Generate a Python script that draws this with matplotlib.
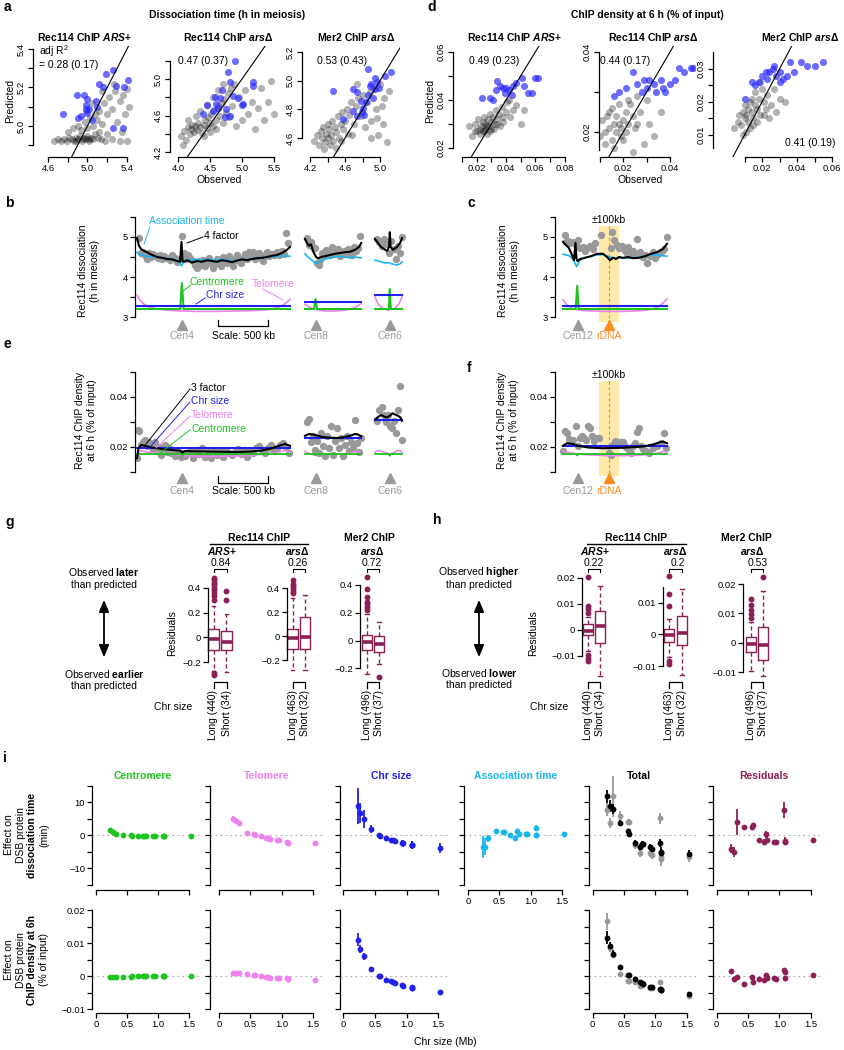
"""
Multi-panel figure: predicted vs observed Rec114/Mer2 dissociation time and ChIP density,
chromosome profiles, residual boxplots and per-chromosome effects.
"""

import matplotlib
matplotlib.use("Agg")
import matplotlib.pyplot as plt
import matplotlib.transforms as mtransforms
from matplotlib.lines import Line2D
from matplotlib.patches import Rectangle, FancyArrowPatch

plt.rcParams["font.family"] = ["Liberation Sans", "DejaVu Sans"]
plt.rcParams["mathtext.fontset"] = "custom"
plt.rcParams["mathtext.it"] = "Liberation Sans:italic:bold"
plt.rcParams["mathtext.bf"] = "Liberation Sans:bold"
plt.rcParams["mathtext.rm"] = "Liberation Sans"
plt.rcParams["axes.linewidth"] = 0.9

# ---------------- data: panel a (dissociation time, h) ----------------
a1_gray_x = [4.66, 4.70, 4.73, 4.76, 4.79, 4.81, 4.84, 4.86, 4.88, 4.90, 4.92, 4.94, 4.96, 4.98, 5.00,
             5.02, 5.04, 5.06, 5.08, 5.11, 5.14, 5.18, 5.25, 5.33, 5.40, 4.80, 4.85, 4.90, 4.93, 4.97,
             5.00, 5.03, 5.06, 5.08, 5.10, 5.12, 5.15, 5.17, 5.20, 5.22, 5.25, 5.28, 5.30, 5.33, 5.36,
             5.38, 5.40, 5.42, 5.35, 5.20, 5.12, 5.05, 4.98, 5.15, 5.27, 4.88, 4.95, 5.02]
a1_gray_y = [4.92, 4.93, 4.92, 4.93, 4.92, 4.94, 4.93, 4.92, 4.94, 4.93, 4.95, 4.92, 4.94, 4.93, 4.95,
             4.92, 4.94, 4.93, 4.96, 4.94, 4.93, 4.92, 4.93, 4.92, 4.92, 4.97, 4.99, 5.00, 4.98, 5.02,
             4.99, 5.04, 5.00, 5.06, 5.03, 5.08, 5.01, 5.12, 5.06, 5.15, 5.09, 5.18, 5.02, 5.13, 5.16,
             5.06, 5.19, 5.10, 4.97, 4.96, 4.97, 5.12, 5.08, 5.18, 5.22, 4.92, 4.93, 4.93]
a1_blue_x = [4.75, 4.98, 5.09, 5.16, 5.19, 5.26, 5.41, 5.37, 5.29, 5.12, 4.89, 4.96, 4.99, 4.98, 5.00,
             5.05, 4.93, 5.26, 5.36, 5.02, 5.10, 4.90]
a1_blue_y = [5.06, 5.09, 5.13, 5.20, 5.27, 5.29, 5.24, 5.20, 5.21, 5.22, 5.16, 5.16, 5.14, 5.11, 5.07,
             5.03, 5.05, 4.99, 4.99, 5.09, 5.10, 5.04]

a2_gray_x = [4.05, 4.10, 4.12, 4.15, 4.18, 4.20, 4.22, 4.25, 4.27, 4.30, 4.32, 4.35, 4.37, 4.40, 4.42,
             4.45, 4.47, 4.50, 4.52, 4.55, 4.57, 4.60, 4.62, 4.65, 4.68, 4.70, 4.72, 4.75, 4.78, 4.80,
             4.83, 4.85, 4.88, 4.90, 4.95, 5.00, 5.05, 5.10, 5.15, 5.20, 5.25, 5.30, 5.35, 5.40, 5.45,
             5.50, 4.28, 4.35, 4.45, 4.55, 4.62, 4.70, 4.40, 4.50, 4.15, 4.60, 4.08]
a2_gray_y = [4.38, 4.43, 4.33, 4.47, 4.40, 4.45, 4.50, 4.42, 4.48, 4.44, 4.52, 4.47, 4.41, 4.50, 4.55,
             4.46, 4.58, 4.52, 4.62, 4.49, 4.66, 4.55, 4.70, 4.60, 4.74, 4.52, 4.78, 4.63, 4.85, 4.58,
             4.90, 4.70, 4.95, 4.48, 4.80, 4.55, 4.88, 4.62, 4.75, 4.45, 4.68, 4.90, 4.55, 4.75, 4.98,
             4.62, 4.60, 4.65, 4.72, 4.80, 4.88, 4.95, 4.38, 4.42, 4.55, 4.45, 4.28]
a2_blue_x = [4.89, 4.78, 4.81, 4.45, 4.58, 4.66, 4.63, 4.81, 5.00, 5.17, 5.17, 4.94, 5.02, 4.39, 4.54,
             4.75, 4.60, 4.86, 4.74, 4.69]
a2_blue_y = [5.20, 5.08, 4.97, 4.71, 4.80, 4.79, 4.68, 4.60, 4.71, 4.97, 4.92, 4.79, 4.73, 4.62, 4.65,
             4.67, 4.73, 4.81, 4.58, 4.88]

a3_gray_x = [4.25, 4.28, 4.30, 4.32, 4.34, 4.35, 4.37, 4.38, 4.40, 4.41, 4.42, 4.44, 4.45, 4.46, 4.48,
             4.50, 4.52, 4.53, 4.55, 4.57, 4.58, 4.60, 4.62, 4.63, 4.65, 4.67, 4.70, 4.72, 4.75, 4.78,
             4.80, 4.83, 4.85, 4.88, 4.90, 4.93, 4.95, 4.98, 5.00, 5.03, 5.05, 5.08, 5.10, 4.36, 4.43,
             4.50, 4.56, 4.68, 4.74, 4.90, 4.96, 5.02]
a3_gray_y = [4.58, 4.62, 4.55, 4.65, 4.60, 4.68, 4.57, 4.63, 4.70, 4.60, 4.66, 4.62, 4.72, 4.58, 4.68,
             4.64, 4.75, 4.60, 4.70, 4.78, 4.66, 4.72, 4.80, 4.63, 4.76, 4.85, 4.70, 4.82, 4.88, 4.75,
             4.90, 4.68, 4.85, 4.92, 4.72, 4.95, 4.80, 4.62, 4.98, 4.70, 4.88, 4.57, 4.93, 4.52, 4.55,
             4.53, 4.58, 4.62, 4.98, 4.60, 4.74, 4.82]
a3_blue_x = [4.46, 4.58, 4.69, 4.74, 4.78, 4.80, 4.82, 4.86, 4.88, 4.90, 4.94, 4.97, 4.74, 4.69, 4.79,
             4.86, 4.94, 5.06, 5.13, 4.84, 4.92, 4.99]
a3_blue_y = [4.93, 4.73, 4.94, 4.92, 4.86, 4.81, 4.76, 4.90, 4.96, 4.98, 4.94, 4.99, 4.75, 4.79, 4.78,
             5.08, 5.02, 5.03, 5.06, 4.85, 4.88, 4.95]

a_r2 = ["adj R$^{\\mathrm{2}}$\n= 0.28 (0.17)", "0.47 (0.37)", "0.53 (0.43)"]

# ---------------- data: panel d (ChIP density at 6 h, % of input) ----------------
d1_gray_x = [0.015, 0.017, 0.019, 0.020, 0.021, 0.022, 0.023, 0.024, 0.024, 0.025, 0.026, 0.026, 0.027,
             0.028, 0.028, 0.029, 0.030, 0.030, 0.031, 0.032, 0.033, 0.034, 0.035, 0.036, 0.037, 0.038,
             0.040, 0.041, 0.043, 0.045, 0.047, 0.050, 0.052, 0.019, 0.022, 0.025, 0.027, 0.029, 0.032,
             0.034, 0.038, 0.042]
d1_gray_y = [0.029, 0.025, 0.030, 0.027, 0.032, 0.026, 0.029, 0.031, 0.027, 0.033, 0.028, 0.030, 0.026,
             0.032, 0.029, 0.034, 0.028, 0.031, 0.033, 0.030, 0.036, 0.032, 0.034, 0.029, 0.037, 0.033,
             0.035, 0.039, 0.033, 0.036, 0.038, 0.030, 0.036, 0.027, 0.028, 0.027, 0.029, 0.027, 0.028,
             0.030, 0.031, 0.040]
d1_blue_x = [0.0235, 0.029, 0.031, 0.034, 0.036, 0.038, 0.040, 0.039, 0.044, 0.045, 0.047, 0.051, 0.052,
             0.055, 0.058, 0.060, 0.062, 0.033, 0.042]
d1_blue_y = [0.041, 0.041, 0.040, 0.048, 0.046, 0.045, 0.045, 0.043, 0.042, 0.046, 0.047, 0.049, 0.046,
             0.043, 0.043, 0.049, 0.049, 0.044, 0.044]

d2_gray_x = [0.008, 0.010, 0.011, 0.012, 0.013, 0.014, 0.015, 0.015, 0.016, 0.017, 0.017, 0.018, 0.019,
             0.019, 0.020, 0.021, 0.021, 0.022, 0.023, 0.024, 0.025, 0.026, 0.027, 0.029, 0.031, 0.033,
             0.036, 0.012, 0.014, 0.016, 0.018, 0.020, 0.022, 0.026, 0.030, 0.024]
d2_gray_y = [0.021, 0.019, 0.023, 0.020, 0.024, 0.021, 0.018, 0.026, 0.022, 0.020, 0.024, 0.027, 0.021,
             0.019, 0.023, 0.025, 0.020, 0.022, 0.027, 0.024, 0.021, 0.029, 0.025, 0.017, 0.022, 0.019,
             0.025, 0.017, 0.025, 0.016, 0.022, 0.018, 0.028, 0.022, 0.028, 0.015]
d2_blue_x = [0.016, 0.018, 0.021, 0.024, 0.026, 0.028, 0.030, 0.031, 0.034, 0.033, 0.036, 0.038, 0.040,
             0.042, 0.044, 0.046, 0.049, 0.050, 0.037, 0.029]
d2_blue_y = [0.029, 0.030, 0.031, 0.035, 0.032, 0.030, 0.031, 0.033, 0.030, 0.032, 0.033, 0.030, 0.032,
             0.033, 0.036, 0.035, 0.036, 0.036, 0.031, 0.033]

d3_gray_x = [0.004, 0.006, 0.007, 0.008, 0.009, 0.010, 0.010, 0.011, 0.012, 0.012, 0.013, 0.014, 0.014,
             0.015, 0.016, 0.016, 0.017, 0.018, 0.019, 0.020, 0.021, 0.022, 0.023, 0.025, 0.027, 0.030,
             0.033, 0.009, 0.011, 0.013, 0.015, 0.017, 0.019, 0.021, 0.024, 0.028]
d3_gray_y = [0.012, 0.014, 0.016, 0.013, 0.017, 0.015, 0.019, 0.016, 0.018, 0.014, 0.020, 0.017, 0.021,
             0.015, 0.019, 0.023, 0.018, 0.021, 0.016, 0.024, 0.020, 0.018, 0.022, 0.019, 0.024, 0.021,
             0.020, 0.010, 0.011, 0.012, 0.013, 0.014, 0.026, 0.016, 0.015, 0.017]
d3_blue_x = [0.010, 0.014, 0.016, 0.018, 0.020, 0.022, 0.023, 0.024, 0.026, 0.027, 0.028, 0.030, 0.032,
             0.034, 0.036, 0.038, 0.042, 0.046, 0.050, 0.055, 0.030]
d3_blue_y = [0.021, 0.026, 0.025, 0.026, 0.028, 0.029, 0.027, 0.029, 0.030, 0.031, 0.028, 0.029, 0.027,
             0.028, 0.032, 0.029, 0.032, 0.031, 0.031, 0.032, 0.026]

d_r2 = ["0.49 (0.23)", "0.44 (0.17)", "0.41 (0.19)"]

# ---------------- data: panels b/c (dissociation profiles, kb / h) ----------------
b4_pos = [15, 40, 60, 80, 100, 120, 140, 160, 185, 205, 230, 250, 270, 300, 325, 350, 375, 400, 425, 450,
          470, 490, 510, 530, 555, 575, 595, 615, 635, 655, 675, 695, 715, 735, 755, 775, 795, 815, 835,
          855, 875, 895, 915, 935, 955, 975, 995, 1015, 1035, 1055, 1075, 1095, 1115, 1135, 1155, 1175,
          1195, 1215, 1235, 1255, 1275, 1300, 1320, 1345, 1370, 1395, 1420, 1445, 1470, 1485, 1505]
b4_obs = [4.98, 4.60, 4.62, 4.55, 4.45, 4.60, 4.50, 4.57, 4.52, 4.48, 4.55, 4.45, 4.52, 4.48, 4.42, 4.55,
          4.48, 4.38, 4.45, 5.03, 4.60, 4.45, 4.55, 4.48, 4.40, 4.30, 4.22, 4.40, 4.30, 4.42, 4.28, 4.37,
          4.47, 4.35, 4.22, 4.32, 4.45, 4.38, 4.28, 4.50, 4.42, 4.34, 4.52, 4.45, 4.28, 4.42, 4.55, 4.40,
          4.35, 4.48, 4.58, 4.45, 4.62, 4.55, 4.62, 4.45, 4.55, 4.60, 4.48, 4.40, 4.55, 4.62, 4.52, 4.58,
          4.55, 4.62, 4.55, 4.65, 4.58, 5.10, 4.85]
b4_grid = [0, 20, 40, 70, 100, 150, 200, 250, 300, 350, 400, 430, 445, 455, 470, 500, 550, 600, 650, 700,
           750, 800, 850, 900, 950, 1000, 1050, 1100, 1150, 1200, 1250, 1300, 1350, 1400, 1450, 1500, 1530]
b4_fit = [4.97, 4.78, 4.70, 4.65, 4.62, 4.55, 4.50, 4.48, 4.45, 4.44, 4.40, 4.38, 4.88, 4.40, 4.38, 4.42,
          4.36, 4.40, 4.38, 4.42, 4.40, 4.38, 4.42, 4.40, 4.37, 4.41, 4.44, 4.42, 4.45, 4.47, 4.48, 4.50,
          4.53, 4.55, 4.60, 4.68, 4.75]
b4_assoc = [4.62, 4.57, 4.55, 4.53, 4.52, 4.50, 4.50, 4.48, 4.47, 4.45, 4.42, 4.35, 4.28, 4.32, 4.40,
            4.43, 4.42, 4.44, 4.42, 4.45, 4.43, 4.42, 4.44, 4.43, 4.40, 4.42, 4.44, 4.43, 4.46, 4.47,
            4.48, 4.50, 4.51, 4.52, 4.53, 4.52, 4.52]
b4_cen_pos = [0, 432, 449, 466, 1530]
b4_cen = [3.20, 3.20, 3.85, 3.20, 3.20]
b4_size = [3.27, 3.27]
b4_tel_pos = [0, 30, 70, 120, 200, 300, 450, 600, 800, 1000, 1150, 1300, 1400, 1460, 1500, 1530]
b4_tel = [3.55, 3.42, 3.32, 3.25, 3.20, 3.17, 3.15, 3.14, 3.14, 3.15, 3.16, 3.18, 3.23, 3.30, 3.37, 3.44]

b8_pos = [15, 35, 55, 75, 95, 115, 135, 150, 170, 190, 210, 230, 250, 270, 290, 310, 330, 350, 370, 390,
          410, 430, 450, 470, 490, 510, 530, 550]
b8_obs = [4.97, 4.80, 4.88, 4.75, 4.72, 4.35, 4.30, 4.42, 4.60, 4.52, 4.68, 4.62, 4.55, 4.75, 4.58, 4.62,
          4.70, 4.52, 4.60, 4.65, 4.58, 4.70, 4.62, 4.55, 4.75, 4.65, 4.72, 5.02]
b8_grid = [0, 20, 40, 60, 80, 100, 110, 130, 160, 200, 250, 300, 350, 400, 450, 500, 540, 562]
b8_fit = [4.95, 4.85, 4.78, 4.82, 4.65, 4.55, 4.50, 4.47, 4.50, 4.52, 4.55, 4.58, 4.60, 4.62, 4.63, 4.68,
          4.75, 4.85]
b8_assoc = [4.58, 4.52, 4.48, 4.44, 4.40, 4.35, 4.33, 4.36, 4.40, 4.45, 4.48, 4.50, 4.52, 4.50, 4.48,
            4.50, 4.48, 4.48]
b8_cen_pos = [0, 90, 105, 120, 562]
b8_cen = [3.20, 3.20, 3.45, 3.20, 3.20]
b8_size = [3.37, 3.37]
b8_tel_pos = [0, 40, 100, 200, 300, 400, 480, 530, 562]
b8_tel = [3.32, 3.25, 3.19, 3.15, 3.15, 3.17, 3.22, 3.28, 3.34]

b6_pos = [15, 40, 65, 90, 115, 135, 160, 185, 205, 225, 245, 265]
b6_obs = [4.95, 4.88, 4.78, 4.95, 4.82, 4.60, 4.90, 4.70, 4.45, 4.78, 4.60, 5.00]
b6_grid = [0, 30, 60, 90, 120, 140, 148, 156, 180, 220, 250, 270]
b6_fit = [4.95, 4.85, 4.75, 4.70, 4.65, 4.75, 5.12, 4.75, 4.68, 4.75, 4.85, 4.97]
b6_assoc = [4.42, 4.40, 4.38, 4.36, 4.35, 4.36, 4.35, 4.34, 4.32, 4.30, 4.33, 4.38]
b6_cen_pos = [0, 138, 148, 158, 270]
b6_cen = [3.20, 3.20, 3.70, 3.20, 3.20]
b6_size = [3.55, 3.55]
b6_tel_pos = [0, 30, 70, 135, 200, 240, 270]
b6_tel = [3.50, 3.33, 3.22, 3.17, 3.22, 3.33, 3.50]

c_pos = [20, 30, 50, 70, 100, 130, 150, 170, 200, 220, 240, 270, 300, 320, 380, 480, 490, 510, 540, 560,
         590, 610, 630, 650, 680, 700, 720, 740, 770, 800, 820, 840, 870, 900, 920, 950, 970, 990, 1010, 1040]
c_obs = [5.05, 4.88, 4.90, 4.85, 4.87, 4.80, 4.92, 4.72, 4.75, 4.65, 4.72, 4.78, 4.70, 4.85, 5.05, 4.72,
         5.12, 4.92, 4.80, 4.72, 4.78, 4.70, 4.62, 4.75, 4.60, 4.65, 4.55, 4.95, 4.62, 4.50, 4.55, 4.35,
         4.52, 4.62, 4.48, 4.58, 4.62, 4.65, 4.70, 5.00]
c_grid = [0, 30, 60, 90, 110, 125, 135, 145, 170, 220, 280, 340, 400, 440, 470, 500, 530, 560, 600, 650,
          700, 760, 820, 880, 940, 1000, 1040]
c_fit = [4.88, 4.80, 4.72, 4.55, 4.42, 4.85, 4.45, 4.40, 4.45, 4.48, 4.52, 4.58, 4.58, 4.50, 4.42, 4.48,
         4.45, 4.50, 4.48, 4.50, 4.47, 4.48, 4.52, 4.58, 4.62, 4.70, 4.83]
c_assoc = [4.57, 4.55, 4.53, 4.48, 4.40, 4.32, 4.26, 4.30, 4.42, 4.48, 4.52, 4.55, 4.56, 4.52, 4.50,
           4.48, 4.47, 4.48, 4.47, 4.48, 4.47, 4.50, 4.52, 4.55, 4.55, 4.53, 4.52]
c_cen_pos = [0, 127, 142, 157, 1040]
c_cen = [3.20, 3.20, 3.78, 3.20, 3.20]
c_size = [3.28, 3.28]
c_tel_pos = [0, 40, 100, 200, 400, 600, 800, 900, 960, 1000, 1040]
c_tel = [3.43, 3.30, 3.20, 3.16, 3.14, 3.14, 3.16, 3.20, 3.27, 3.35, 3.45]

# ---------------- data: panels e/f (ChIP density profiles) ----------------
e4_pos = [0, 10, 20, 40, 60, 80, 100, 120, 140, 160, 180, 200, 220, 240, 260, 280, 300, 320, 340, 360,
          380, 400, 420, 440, 460, 480, 500, 530, 560, 590, 620, 650, 680, 710, 740, 770, 800, 830, 860,
          890, 920, 950, 980, 1010, 1040, 1070, 1100, 1130, 1160, 1190, 1220, 1250, 1280, 1310, 1340,
          1370, 1400, 1430, 1460, 1490, 1520]
e4_obs = [0.0155, 0.0270, 0.0265, 0.0210, 0.0220, 0.0230, 0.0205, 0.0220, 0.0210, 0.0190, 0.0220,
          0.0185, 0.0200, 0.0170, 0.0195, 0.0210, 0.0180, 0.0195, 0.0175, 0.0190, 0.0165, 0.0185,
          0.0180, 0.0160, 0.0175, 0.0165, 0.0178, 0.0185, 0.0155, 0.0190, 0.0172, 0.0195, 0.0162,
          0.0180, 0.0155, 0.0190, 0.0170, 0.0185, 0.0160, 0.0190, 0.0175, 0.0170, 0.0182, 0.0192,
          0.0172, 0.0190, 0.0162, 0.0185, 0.0178, 0.0195, 0.0205, 0.0188, 0.0178, 0.0198, 0.0210,
          0.0185, 0.0195, 0.0210, 0.0215, 0.0200, 0.0175]
e4_grid = [0, 15, 40, 80, 150, 250, 350, 430, 455, 480, 550, 700, 850, 1000, 1150, 1250, 1350, 1420,
           1480, 1530]
e4_fit = [0.0155, 0.0195, 0.0208, 0.0205, 0.0198, 0.0192, 0.0188, 0.0185, 0.0178, 0.0184, 0.0183,
          0.0182, 0.0181, 0.0180, 0.0182, 0.0186, 0.0195, 0.0205, 0.0212, 0.0205]
e4_size = [0.0195, 0.0195]
e4_cen_pos = [0, 440, 455, 470, 1530]
e4_cen = [0.0172, 0.0172, 0.0165, 0.0172, 0.0172]
e4_tel_pos = [0, 15, 40, 100, 200, 350, 500, 700, 900, 1100, 1300, 1420, 1480, 1530]
e4_tel = [0.0155, 0.0178, 0.0185, 0.0180, 0.0175, 0.0170, 0.0165, 0.0162, 0.0163, 0.0166, 0.0172,
          0.0180, 0.0186, 0.0178]

e8_pos = [20, 40, 60, 80, 100, 120, 140, 160, 180, 200, 220, 240, 260, 280, 300, 320, 340, 360, 380, 400,
          420, 440, 460, 480, 500, 520, 540, 555]
e8_obs = [0.0302, 0.0312, 0.0220, 0.0245, 0.0190, 0.0225, 0.0175, 0.0255, 0.0205, 0.0165, 0.0245,
          0.0195, 0.0285, 0.0170, 0.0225, 0.0275, 0.0195, 0.0235, 0.0165, 0.0210, 0.0245, 0.0185,
          0.0220, 0.0195, 0.0310, 0.0215, 0.0180, 0.0235]
e8_grid = [0, 40, 80, 120, 180, 250, 320, 400, 460, 500, 530, 562]
e8_fit = [0.0245, 0.0252, 0.0250, 0.0246, 0.0240, 0.0237, 0.0236, 0.0240, 0.0246, 0.0252, 0.0250, 0.0243]
e8_size = [0.0235, 0.0235]
e8_cen_pos = [0, 95, 105, 115, 562]
e8_cen = [0.0172, 0.0172, 0.0166, 0.0172, 0.0172]
e8_tel_pos = [0, 30, 70, 105, 150, 250, 350, 450, 510, 540, 562]
e8_tel = [0.0182, 0.0175, 0.0170, 0.0168, 0.0172, 0.0173, 0.0172, 0.0175, 0.0183, 0.0180, 0.0172]

e6_pos = [15, 40, 65, 90, 110, 130, 150, 170, 190, 210, 230, 250, 265]
e6_obs = [0.0305, 0.0350, 0.0360, 0.0330, 0.0300, 0.0330, 0.0285, 0.0275, 0.0305, 0.0255, 0.0350,
          0.0445, 0.0230]
e6_grid = [0, 30, 60, 90, 120, 148, 175, 200, 230, 255, 270]
e6_fit = [0.0310, 0.0320, 0.0328, 0.0322, 0.0318, 0.0325, 0.0335, 0.0330, 0.0325, 0.0318, 0.0305]
e6_size = [0.0310, 0.0310]
e6_cen_pos = [0, 138, 148, 158, 270]
e6_cen = [0.0172, 0.0172, 0.0165, 0.0172, 0.0172]
e6_tel_pos = [0, 30, 70, 120, 148, 180, 230, 255, 270]
e6_tel = [0.0180, 0.0186, 0.0182, 0.0175, 0.0172, 0.0176, 0.0186, 0.0184, 0.0175]

f_pos = [0, 20, 40, 60, 80, 100, 130, 150, 170, 190, 210, 230, 250, 270, 290, 310, 330, 360, 460, 480,
         500, 520, 540, 560, 580, 600, 620, 640, 660, 680, 700, 720, 740, 760, 780, 800, 830, 860, 900,
         940, 980, 1010, 1030]
f_obs = [0.0185, 0.0265, 0.0258, 0.0232, 0.0215, 0.0228, 0.0285, 0.0205, 0.0238, 0.0243, 0.0238, 0.0228,
         0.0285, 0.0278, 0.0243, 0.0225, 0.0235, 0.0235, 0.0178, 0.0168, 0.0210, 0.0223, 0.0220, 0.0222,
         0.0220, 0.0222, 0.0205, 0.0195, 0.0190, 0.0175, 0.0205, 0.0215, 0.0260, 0.0275, 0.0205, 0.0192,
         0.0185, 0.0178, 0.0195, 0.0205, 0.0215, 0.0258, 0.0195]
f_grid = [0, 40, 100, 150, 250, 400, 600, 800, 900, 960, 1000, 1040]
f_fit = [0.0205, 0.0215, 0.0212, 0.0205, 0.0198, 0.0195, 0.0197, 0.0202, 0.0210, 0.0218, 0.0222, 0.0215]
f_size = [0.0204, 0.0204]
f_cen_pos = [0, 130, 142, 154, 1040]
f_cen = [0.0172, 0.0172, 0.0166, 0.0172, 0.0172]
f_tel_pos = [0, 40, 100, 200, 400, 600, 800, 950, 1000, 1040]
f_tel = [0.0183, 0.0180, 0.0175, 0.0170, 0.0166, 0.0165, 0.0168, 0.0176, 0.0182, 0.0180]

# chromosome features (kb within chromosome)
chr_len = {"chr4": 1530, "chr8": 562, "chr6": 270, "chr12": 1040}
cen_kb = {"chr4": 449, "chr8": 105, "chr6": 148, "chr12": 150}
rdna_kb = 455

# ---------------- data: panels g/h (residual boxplots, Long / Short per strain) ----------------
g_q1 = [-0.100, -0.105, -0.105, -0.105, -0.070, -0.080]
g_med = [-0.010, -0.040, -0.020, -0.005, -0.010, -0.024]
g_q3 = [0.064, 0.050, 0.063, 0.158, 0.043, 0.036]
g_lo = [-0.270, -0.280, -0.280, -0.280, -0.240, -0.170]
g_hi = [0.256, 0.190, 0.315, 0.340, 0.190, 0.130]
g_fliers = [[0.30, 0.33, 0.36, 0.38, 0.40, 0.42, 0.44, 0.46, 0.48, -0.29, -0.30], [0.30, 0.37],
            [0.36, 0.38, 0.40, 0.42, 0.44, 0.47], [], [0.22, 0.24, 0.26, 0.28, 0.31, 0.37, 0.46], [-0.26]]
g_pvals = ["0.84", "0.26", "0.72"]

h_q1 = [-0.0019, -0.0050, -0.0023, -0.0034, -0.0030, -0.0058]
h_med = [-0.0006, 0.0013, -0.0001, 0.0005, -0.0003, -0.0007]
h_q3 = [0.0023, 0.0073, 0.0018, 0.0057, 0.0019, 0.0053]
h_lo = [-0.0080, -0.0177, -0.0070, -0.0128, -0.0097, -0.0112]
h_hi = [0.0050, 0.0169, 0.0050, 0.0143, 0.0070, 0.0176]
h_fliers = [[0.0065, 0.0080, 0.0092, 0.0204, -0.0098, -0.0110, -0.0120], [],
            [0.0089, 0.0127, 0.0185, -0.0083, -0.0094], [],
            [0.0085, 0.0098, 0.0112, 0.0128, 0.0149], [0.0224]]
h_pvals = ["0.22", "0.2", "0.53"]

box_names = ["Long (440)", "Short (34)", "Long (463)", "Short (32)", "Long (496)", "Short (37)"]

# ---------------- data: panel i (effects per chromosome) ----------------
chr_size_mb = [0.23, 0.27, 0.32, 0.44, 0.56, 0.58, 0.67, 0.75, 0.78, 0.81, 0.92, 0.95, 1.08, 1.09, 1.09, 1.53]

cen_dis = [1.6, 1.1, 0.4, 0.1, 0.0, -0.1, -0.1, -0.2, -0.3, -0.3, -0.2, -0.2, -0.3, -0.2, -0.3, -0.1]
cen_dis_err = [0.7, 0.4, 0.3, 0.2, 0.2, 0.2, 0.2, 0.2, 0.2, 0.2, 0.2, 0.2, 0.3, 0.3, 0.3, 0.2]
tel_dis = [5.0, 4.4, 3.6, 0.7, 0.3, 0.0, -0.3, -0.8, -0.7, -1.0, -1.4, -1.5, -2.0, -2.4, -2.2, -2.3]
tel_dis_err = [1.0, 0.8, 0.6, 0.3, 0.3, 0.2, 0.2, 0.3, 0.3, 0.3, 0.4, 0.4, 0.6, 0.6, 0.6, 0.6]
size_dis = [8.9, 6.7, 5.0, 1.8, 0.1, -0.1, -0.8, -1.3, -1.5, -1.7, -2.3, -2.4, -2.9, -3.0, -2.9, -3.9]
size_dis_err = [5.5, 3.0, 2.8, 1.2, 0.4, 0.3, 0.3, 0.5, 0.5, 0.6, 1.0, 1.0, 1.3, 1.3, 1.3, 1.6]
assoc_dis = [-3.6, -3.4, -0.9, 1.3, 1.0, 1.1, 0.0, -0.8, 1.2, 0.5, 0.4, 0.4, 2.1, 0.0, 0.2, 0.5]
assoc_dis_err = [3.3, 2.5, 1.0, 0.6, 0.5, 0.5, 0.4, 0.5, 0.6, 0.6, 0.5, 0.5, 0.9, 0.6, 0.6, 0.6]
total_dis = [11.8, 8.9, 7.9, 3.7, 1.2, 0.5, -2.3, -3.5, -2.5, -2.5, -3.5, -4.0, -2.3, -5.5, -5.0, -5.7]
total_dis_err = [2.0, 1.8, 1.5, 1.0, 0.8, 0.7, 1.0, 1.0, 0.9, 0.9, 1.0, 1.0, 1.2, 1.5, 1.5, 1.2]
obs_dis = [7.7, 3.7, 11.8, 6.0, 4.0, 4.0, -2.9, -5.4, -3.0, -2.7, -5.5, -6.0, 5.1, -7.3, -6.5, -6.5]
obs_dis_err = [2.0, 1.5, 6.3, 1.5, 1.0, 1.0, 1.2, 1.2, 1.0, 1.0, 1.2, 1.2, 1.8, 2.0, 2.0, 1.5]
res_dis = [-4.0, -5.1, 4.0, 2.5, 2.5, 3.0, -1.4, -1.9, 0.3, -1.4, -2.0, -2.0, 7.6, -1.9, -1.6, -1.4]
res_dis_err = [1.5, 1.5, 4.0, 0.6, 0.6, 0.7, 0.6, 0.8, 1.0, 0.8, 0.5, 0.5, 2.5, 1.0, 1.0, 0.5]

cen_den = [-0.0003, -0.0003, -0.0002, -0.0001, -0.0001, 0.0, 0.0, 0.0, 0.0, 0.0, 0.0, 0.0, 0.0, 0.0, 0.0, 0.0]
cen_den_err = [0.0002, 0.0002, 0.0002, 0.0001, 0.0001, 0.0001, 0.0001, 0.0001, 0.0001, 0.0001, 0.0001,
               0.0001, 0.0001, 0.0001, 0.0001, 0.0001]
tel_den = [0.0009, 0.0011, 0.0010, 0.0008, 0.0004, 0.0003, 0.0001, -0.0002, -0.0003, -0.0004, -0.0005,
           -0.0005, -0.0006, -0.0008, -0.0007, -0.0012]
tel_den_err = [0.0002, 0.0002, 0.0002, 0.0001, 0.0001, 0.0001, 0.0001, 0.0001, 0.0001, 0.0001, 0.0001,
               0.0001, 0.0002, 0.0002, 0.0002, 0.0002]
size_den = [0.0110, 0.0082, 0.0060, 0.0022, 0.0001, 0.0000, -0.0010, -0.0015, -0.0018, -0.0020, -0.0028,
            -0.0029, -0.0034, -0.0035, -0.0035, -0.0047]
size_den_err = [0.0020, 0.0012, 0.0010, 0.0004, 0.0003, 0.0003, 0.0003, 0.0003, 0.0003, 0.0003, 0.0003,
                0.0003, 0.0004, 0.0004, 0.0004, 0.0005]
total_den = [0.0116, 0.0092, 0.0068, 0.0029, 0.0005, 0.0003, -0.0009, -0.0019, -0.0022, -0.0025, -0.0032,
             -0.0034, -0.0040, -0.0043, -0.0042, -0.0055]
total_den_err = [0.0020, 0.0012, 0.0010, 0.0004, 0.0004, 0.0004, 0.0004, 0.0004, 0.0004, 0.0004, 0.0004,
                 0.0004, 0.0005, 0.0005, 0.0005, 0.0008]
obs_den = [0.0166, 0.0085, 0.0065, 0.0006, -0.0013, -0.0014, -0.0017, -0.0029, -0.0027, -0.0025, -0.0035,
           -0.0036, -0.0019, -0.0039, -0.0038, -0.0060]
obs_den_err = [0.0025, 0.0012, 0.0010, 0.0004, 0.0004, 0.0004, 0.0004, 0.0004, 0.0004, 0.0004, 0.0004,
               0.0004, 0.0005, 0.0005, 0.0005, 0.0008]
res_den = [0.0017, -0.0007, -0.0002, -0.0024, -0.0002, -0.0017, -0.0009, -0.0010, 0.0003, -0.0005, -0.0005,
           -0.0009, 0.0020, -0.0004, 0.0012, 0.0003]
res_den_err = [0.0002, 0.0002, 0.0002, 0.0002, 0.0002, 0.0002, 0.0002, 0.0002, 0.0002, 0.0002, 0.0002,
               0.0002, 0.0003, 0.0002, 0.0002, 0.0002]

# ---------------- style ----------------
W, H = 844, 1050
TICK_FS = 6.8
TXT_FS = 7.5
GREEN = "#1DC41D"
VIOLET = "#EE82EE"
BLUE = "#2020E8"
CYAN = "#19B6EE"
MAROON = "#8C1F56"
DOT_GRAY = "#999999"
ORANGE = "#FF8C1A"
SHADE = "#FFE9A8"
MINUS = "\u2212"

fig = plt.figure(figsize=(W / 100, H / 100), dpi=100)
fig.patch.set_facecolor("white")


def px_rect(x0, y0, x1, y1):
    return [x0 / W, 1 - y1 / H, (x1 - x0) / W, (y1 - y0) / H]


def lin(m, p):
    p0, v0, p1, v1 = m
    return v0 + (p - p0) * (v1 - v0) / (p1 - p0)


def new_ax(x0, y0, x1, y1, xmap=None, ymap=None, show_x=True):
    ax = fig.add_axes(px_rect(x0, y0, x1, y1))
    ax.patch.set_alpha(0)
    for s in ("top", "right"):
        ax.spines[s].set_visible(False)
    if xmap is not None:
        ax.set_xlim(lin(xmap, x0), lin(xmap, x1))
    if xmap is None or not show_x:
        ax.spines["bottom"].set_visible(False)
        ax.set_xticks([])
    if ymap is not None:
        ax.set_ylim(lin(ymap, y1), lin(ymap, y0))
    ax.tick_params(labelsize=TICK_FS, length=3.5, width=0.9, pad=1.5)
    return ax


def set_ticks(ax, axis, ticks, labels, bounds=None):
    b = bounds if bounds is not None else (ticks[0], ticks[-1])
    if axis == "x":
        ax.set_xticks(ticks)
        ax.set_xticklabels(labels)
        ax.spines["bottom"].set_bounds(*b)
    else:
        ax.set_yticks(ticks)
        ax.set_yticklabels(labels)
        ax.spines["left"].set_bounds(*b)


def ftext(x, y, s, **kw):
    kw.setdefault("ha", "center")
    kw.setdefault("va", "center")
    kw.setdefault("fontsize", TXT_FS)
    return fig.text(x / W, 1 - y / H, s, **kw)


def fline(xs, ys, **kw):
    kw.setdefault("color", "k")
    kw.setdefault("lw", 0.9)
    fig.add_artist(Line2D([x / W for x in xs], [1 - y / H for y in ys],
                          transform=fig.transFigure, **kw))


def under(ax):
    return mtransforms.blended_transform_factory(ax.transData, fig.transFigure)


def fy(y):
    return 1 - y / H


# ---------------- panels a and d: predicted vs observed ----------------
def scatter_panel(rect, xmap, ymap, gx, gy, bx, by, xt, xl, yt, yl, ybounds=None):
    ax = new_ax(*rect, xmap=xmap, ymap=ymap)
    ax.scatter(gx, gy, s=26, color="k", alpha=0.3, lw=0, zorder=2)
    ax.scatter(bx, by, s=26, color="#2626FF", alpha=0.68, lw=0, zorder=3)
    ax.axline((yt[1], yt[1]), slope=1, color="k", lw=0.8, zorder=4)
    set_ticks(ax, "x", xt, xl)
    set_ticks(ax, "y", yt, yl, ybounds)
    ax.tick_params(axis="y", labelrotation=90)
    for lab in ax.get_yticklabels():
        lab.set_va("center")
    return ax


scatter_panel((33, 46, 137, 157), (48, 4.6, 127, 5.4), (126, 5.0, 49, 5.4),
              a1_gray_x, a1_gray_y, a1_blue_x, a1_blue_y,
              [4.6, 4.8, 5.0, 5.2, 5.4], ["4.6", "", "5.0", "", "5.4"],
              [4.9, 5.0, 5.1, 5.2, 5.3, 5.4], ["", "5.0", "", "5.2", "", "5.4"])
scatter_panel((170, 46, 277, 157), (178, 4.0, 274, 5.5), (152, 4.2, 79, 5.0),
              a2_gray_x, a2_gray_y, a2_blue_x, a2_blue_y,
              [4.0, 4.5, 5.0, 5.5], ["4.0", "4.5", "5.0", "5.5"],
              [4.2, 4.4, 4.6, 4.8, 5.0, 5.2], ["4.2", "", "4.6", "", "5.0", ""])
scatter_panel((302, 46, 400, 157), (310, 4.2, 380, 5.0), (138, 4.6, 52, 5.2),
              a3_gray_x, a3_gray_y, a3_blue_x, a3_blue_y,
              [4.2, 4.4, 4.6, 4.8, 5.0], ["4.2", "", "4.6", "", "5.0"],
              [4.6, 4.8, 5.0, 5.2], ["4.6", "4.8", "5.0", "5.2"])

scatter_panel((453, 46, 567, 157), (476.7, 0.02, 535.3, 0.06), (148, 0.02, 52, 0.06),
              d1_gray_x, d1_gray_y, d1_blue_x, d1_blue_y,
              [0.01, 0.02, 0.03, 0.04, 0.05, 0.06, 0.07, 0.08],
              ["", "0.02", "", "0.04", "", "0.06", "", "0.08"],
              [0.02, 0.03, 0.04, 0.05, 0.06], ["0.02", "", "0.04", "", "0.06"])
scatter_panel((599, 46, 695, 157), (623.3, 0.02, 670, 0.04), (132, 0.02, 52, 0.04),
              d2_gray_x, d2_gray_y, d2_blue_x, d2_blue_y,
              [0.01, 0.02, 0.03, 0.04], ["", "0.02", "", "0.04"],
              [0.02, 0.03, 0.04], ["0.02", "", "0.04"], ybounds=(0.0155, 0.04))
scatter_panel((713, 46, 842, 157), (762, 0.02, 797, 0.04), (135, 0.01, 69, 0.03),
              d3_gray_x, d3_gray_y, d3_blue_x, d3_blue_y,
              [0.01, 0.02, 0.03, 0.04, 0.05, 0.06], ["", "0.02", "", "0.04", "", "0.06"],
              [0.01, 0.015, 0.02, 0.025, 0.03], ["0.01", "", "0.02", "", "0.03"], ybounds=(0.006, 0.035))

ftext(4, 7, "a", fontsize=10, fontweight="bold", ha="left")
ftext(427, 7, "d", fontsize=10, fontweight="bold", ha="left")
ftext(227, 15, "Dissociation time (h in meiosis)", fontweight="bold")
ftext(647, 15, "ChIP density at 6 h (% of input)", fontweight="bold")
for x, t in ((85, "Rec114 ChIP $ARS$+"), (228, "Rec114 ChIP $ars$\u0394"), (356, "Mer2 ChIP $ars$\u0394"),
             (515, "Rec114 ChIP $ARS$+"), (653, "Rec114 ChIP $ars$\u0394"), (800, "Mer2 ChIP $ars$\u0394")):
    ftext(x, 37, t, fontweight="bold")
ftext(39, 57, a_r2[0], ha="left", linespacing=1.15)
ftext(178, 61, a_r2[1], ha="left")
ftext(317, 61, a_r2[2], ha="left")
ftext(469, 61, d_r2[0], ha="left")
ftext(600, 61, d_r2[1], ha="left")
ftext(785, 143, d_r2[2], ha="left")
ftext(10, 101, "Predicted", rotation=90)
ftext(430, 101, "Predicted", rotation=90)
ftext(219, 180, "Observed")
ftext(640, 180, "Observed")


# ---------------- panels b, c, e, f: chromosome profiles ----------------
def draw_chr(ax, off, dots, lines):
    ax.scatter([p + off for p in dots[0]], dots[1], s=28, color=DOT_GRAY, lw=0, zorder=2)
    for (pos, val), color, lw in lines:
        ax.plot([p + off for p in pos], val, color=color, lw=lw, zorder=3, solid_joinstyle="round")


def chr_marks(ax, xs, names, colors, ytri, ylab):
    tr = under(ax)
    for x, n, c in zip(xs, names, colors):
        ax.plot([x], [fy(ytri)], marker="^", ms=7, color=c, transform=tr, clip_on=False, lw=0)
        ax.text(x, fy(ylab), n, color=c, fontsize=TXT_FS, ha="center", va="center",
                transform=tr, clip_on=False)


def scale_bar(ax, x0, x1, ytop, ybot, ylab):
    tr = under(ax)
    ax.plot([x0, x0, x1, x1], [fy(ytop), fy(ybot), fy(ybot), fy(ytop)], color="k", lw=0.9,
            transform=tr, clip_on=False)
    ax.text((x0 + x1) / 2, fy(ylab), "Scale: 500 kb", fontsize=TXT_FS, ha="center", va="center",
            transform=tr, clip_on=False)


def rdna_band(ax, ytop, ybot):
    tr = under(ax)
    ax.add_patch(Rectangle((rdna_kb - 100, fy(ybot)), 200, fy(ytop) - fy(ybot), facecolor=SHADE,
                           edgecolor="none", transform=tr, clip_on=False, zorder=0))
    ax.plot([rdna_kb, rdna_kb], [fy(ytop), fy(ybot)], color=ORANGE, lw=0.8, ls=(0, (3, 2)),
            transform=tr, clip_on=False, zorder=1)
    ax.text(rdna_kb, fy(ytop - 6), "\u00b1100kb", fontsize=TXT_FS, ha="center", va="center",
            transform=tr, clip_on=False)


OFF8 = 1680
OFF6 = 2380

# b
ax_b = new_ax(135, 216, 405, 318, xmap=(137, 0, 187, 500), ymap=(237, 5, 277, 4), show_x=False)
set_ticks(ax_b, "y", [3, 3.5, 4, 4.5, 5, 5.5], ["3", "", "4", "", "5", ""])
draw_chr(ax_b, 0, (b4_pos, b4_obs), [((b4_tel_pos, b4_tel), VIOLET, 1.2),
                                     ((b4_cen_pos, b4_cen), GREEN, 1.5),
                                     (([0, chr_len["chr4"]], b4_size), BLUE, 1.5),
                                     ((b4_grid, b4_assoc), CYAN, 1.2),
                                     ((b4_grid, b4_fit), "k", 1.5)])
draw_chr(ax_b, OFF8, (b8_pos, b8_obs), [((b8_tel_pos, b8_tel), VIOLET, 1.2),
                                        ((b8_cen_pos, b8_cen), GREEN, 1.5),
                                        (([0, chr_len["chr8"]], b8_size), BLUE, 1.5),
                                        ((b8_grid, b8_assoc), CYAN, 1.2),
                                        ((b8_grid, b8_fit), "k", 1.5)])
draw_chr(ax_b, OFF6, (b6_pos, b6_obs), [((b6_tel_pos, b6_tel), VIOLET, 1.2),
                                        ((b6_cen_pos, b6_cen), GREEN, 1.5),
                                        (([0, chr_len["chr6"]], b6_size), BLUE, 1.5),
                                        ((b6_grid, b6_assoc), CYAN, 1.2),
                                        ((b6_grid, b6_fit), "k", 1.5)])
chr_marks(ax_b, [cen_kb["chr4"], cen_kb["chr8"] + OFF8, cen_kb["chr6"] + OFF6],
          ["Cen4", "Cen8", "Cen6"], [DOT_GRAY] * 3, 325, 336)
scale_bar(ax_b, 810, 1310, 320, 326, 336)
ftext(89, 271, "Rec114 dissociation\n(h in meiosis)", rotation=90, linespacing=1.15)
ftext(149, 221, "Association time", ha="left", color=CYAN)
fline([150, 144], [227, 244], color=CYAN, lw=0.7)
ftext(204, 236, "4 factor", ha="left")
fline([203, 187], [237, 243], lw=0.7)
ftext(190, 282, "Centromere", ha="left", color=GREEN)
fline([191, 183], [285, 291], color=GREEN, lw=0.7)
ftext(206, 295, "Chr size", ha="left", color=BLUE)
fline([205, 196], [298, 304], color=BLUE, lw=0.7)
ftext(252, 284, "Telomere", ha="left", color=VIOLET)
fline([263, 283], [289, 300], color=VIOLET, lw=0.7)
ftext(5, 203, "b", fontsize=10, fontweight="bold", ha="left")

# c
ax_c = new_ax(555, 216, 680, 318, xmap=(563, 0, 613, 500), ymap=(237, 5, 277, 4), show_x=False)
set_ticks(ax_c, "y", [3, 3.5, 4, 4.5, 5, 5.5], ["3", "", "4", "", "5", ""])
rdna_band(ax_c, 226, 322)
draw_chr(ax_c, 0, (c_pos, c_obs), [((c_tel_pos, c_tel), VIOLET, 1.2),
                                   ((c_cen_pos, c_cen), GREEN, 1.5),
                                   (([0, chr_len["chr12"]], c_size), BLUE, 1.5),
                                   ((c_grid, c_assoc), CYAN, 1.2),
                                   ((c_grid, c_fit), "k", 1.5)])
chr_marks(ax_c, [cen_kb["chr12"], rdna_kb], ["Cen12", "rDNA"], [DOT_GRAY, ORANGE], 325, 336)
ftext(509, 271, "Rec114 dissociation\n(h in meiosis)", rotation=90, linespacing=1.15)
ftext(467, 203, "c", fontsize=10, fontweight="bold", ha="left")

# e
ax_e = new_ax(135, 370, 405, 474, xmap=(137, 0, 187, 500), ymap=(397, 0.04, 447, 0.02), show_x=False)
set_ticks(ax_e, "y", [0.01, 0.02, 0.03, 0.04, 0.05], ["", "0.02", "", "0.04", ""])
draw_chr(ax_e, 0, (e4_pos, e4_obs), [((e4_tel_pos, e4_tel), VIOLET, 1.2),
                                     ((e4_cen_pos, e4_cen), GREEN, 1.3),
                                     (([0, chr_len["chr4"]], e4_size), BLUE, 1.5),
                                     ((e4_grid, e4_fit), "k", 1.5)])
draw_chr(ax_e, OFF8, (e8_pos, e8_obs), [((e8_tel_pos, e8_tel), VIOLET, 1.2),
                                        ((e8_cen_pos, e8_cen), GREEN, 1.3),
                                        (([0, chr_len["chr8"]], e8_size), BLUE, 1.5),
                                        ((e8_grid, e8_fit), "k", 1.5)])
draw_chr(ax_e, OFF6, (e6_pos, e6_obs), [((e6_tel_pos, e6_tel), VIOLET, 1.2),
                                        ((e6_cen_pos, e6_cen), GREEN, 1.3),
                                        (([0, chr_len["chr6"]], e6_size), BLUE, 1.5),
                                        ((e6_grid, e6_fit), "k", 1.5)])
chr_marks(ax_e, [cen_kb["chr4"], cen_kb["chr8"] + OFF8, cen_kb["chr6"] + OFF6],
          ["Cen4", "Cen8", "Cen6"], [DOT_GRAY] * 3, 478, 491)
scale_bar(ax_e, 810, 1310, 476, 483, 491)
ftext(86, 420, "Rec114 ChIP density\nat 6 h (% of input)", rotation=90, linespacing=1.15)
for y, t, c, end in ((388, "3 factor", "k", (146, 444)), (401, "Chr size", BLUE, (150, 447)),
                     (415, "Telomere", VIOLET, (156, 448)), (429, "Centromere", GREEN, (160, 453))):
    ftext(191, y, t, ha="left", color=c)
    fline([190, end[0]], [y + 1, end[1]], color=c, lw=0.7)
ftext(4, 344, "e", fontsize=10, fontweight="bold", ha="left")

# f
ax_f = new_ax(555, 370, 680, 474, xmap=(563, 0, 613, 500), ymap=(397, 0.04, 447, 0.02), show_x=False)
set_ticks(ax_f, "y", [0.01, 0.02, 0.03, 0.04, 0.05], ["", "0.02", "", "0.04", ""])
rdna_band(ax_f, 381, 476)
draw_chr(ax_f, 0, (f_pos, f_obs), [((f_tel_pos, f_tel), VIOLET, 1.2),
                                   ((f_cen_pos, f_cen), GREEN, 1.3),
                                   (([0, chr_len["chr12"]], f_size), BLUE, 1.5),
                                   ((f_grid, f_fit), "k", 1.5)])
chr_marks(ax_f, [cen_kb["chr12"], rdna_kb], ["Cen12", "rDNA"], [DOT_GRAY, ORANGE], 478, 491)
ftext(508, 420, "Rec114 ChIP density\nat 6 h (% of input)", rotation=90, linespacing=1.15)
ftext(467, 368, "f", fontsize=10, fontweight="bold", ha="left")


# ---------------- panels g and h: residual boxplots ----------------
def box_panel(rect, ymap, xc, q1, med, q3, lo, hi, fl, yt, yl, ybounds=None):
    ax = new_ax(*rect, xmap=(xc[0], 1, xc[1], 2), ymap=ymap, show_x=False)
    stats = [dict(q1=q1[i], med=med[i], q3=q3[i], whislo=lo[i], whishi=hi[i], fliers=fl[i])
             for i in range(2)]
    ax.bxp(stats, positions=[1, 2], widths=0.82, capwidths=0.3, manage_ticks=False,
           boxprops=dict(color=MAROON, lw=1.0),
           medianprops=dict(color=MAROON, lw=2.6, solid_capstyle="butt"),
           whiskerprops=dict(color=MAROON, lw=1.0, ls=(0, (3, 2))),
           capprops=dict(color=MAROON, lw=1.0),
           flierprops=dict(marker="o", ms=3.2, mfc=MAROON, mec=MAROON))
    for a in ax.lines:
        a.set_clip_on(False)
    set_ticks(ax, "y", yt, yl, ybounds)
    return ax


g_rects = [(208, 575, 234, 690), (287, 575, 313, 690), (360, 575, 386, 690)]
g_maps = [(587.7, 0.4, 662.3, -0.2), (588.3, 0.4, 660, -0.2), (585, 0.4, 668.3, -0.2)]
g_xc = [(213.5, 226.5), (292.5, 305), (366.7, 379.3)]
for k in range(3):
    i = 2 * k
    box_panel(g_rects[k], g_maps[k], g_xc[k], g_q1[i:i + 2], g_med[i:i + 2], g_q3[i:i + 2],
              g_lo[i:i + 2], g_hi[i:i + 2], g_fliers[i:i + 2],
              [-0.2, 0, 0.2, 0.4], [MINUS + "0.2", "0", "0.2", "0.4"])

h_rects = [(582, 570, 608, 690), (663, 570, 689, 690), (743, 570, 769, 690)]
h_maps = [(577.7, 0.02, 655.7, -0.01), (602.7, 0.01, 666, -0.01), (584, 0.02, 672.3, -0.01)]
h_xc = [(587.7, 600), (669.3, 681.7), (751, 763.3)]
h_ticks = [([-0.01, 0, 0.01, 0.02], [MINUS + "0.01", "0", "0.01", "0.02"], None),
           ([-0.01, 0, 0.01], [MINUS + "0.01", "0", "0.01"], (-0.01, 0.015)),
           ([-0.01, 0, 0.01, 0.02], [MINUS + "0.01", "0", "0.01", "0.02"], None)]
for k in range(3):
    i = 2 * k
    box_panel(h_rects[k], h_maps[k], h_xc[k], h_q1[i:i + 2], h_med[i:i + 2], h_q3[i:i + 2],
              h_lo[i:i + 2], h_hi[i:i + 2], h_fliers[i:i + 2], *h_ticks[k])


def box_annotations(xcs, pvals, pcent, headers):
    for (x0, x1), p, pc in zip(xcs, pvals, pcent):
        ftext(pc, 563, p)
        fline([x0, x0, x1, x1], [572, 568.5, 568.5, 572], lw=0.8)
        fline([x0, x0, x1, x1], [688, 682, 682, 688], lw=0.9)
    for (x0, x1), names in zip(xcs, headers):
        ftext(x0, 690, names[0], rotation=90, va="top")
        ftext(x1, 690, names[1], rotation=90, va="top")


box_annotations(g_xc, g_pvals, [220.5, 297.3, 372], [box_names[0:2], box_names[2:4], box_names[4:6]])
box_annotations(h_xc, h_pvals, [594.3, 677.5, 757.5], [box_names[0:2], box_names[2:4], box_names[4:6]])

ftext(259, 538, "Rec114 ChIP", fontweight="bold")
fline([210, 308], [543.5, 543.5], lw=1.0)
ftext(222, 551, "$ARS$+", fontweight="bold")
ftext(297, 551, "$ars$\u0394", fontweight="bold")
ftext(369, 538, "Mer2 ChIP", fontweight="bold")
ftext(372, 551, "$ars$\u0394", fontweight="bold")
ftext(636, 538, "Rec114 ChIP", fontweight="bold")
fline([587, 686], [543.5, 543.5], lw=1.0)
ftext(595, 551, "$ARS$+", fontweight="bold")
ftext(675, 551, "$ars$\u0394", fontweight="bold")
ftext(746, 538, "Mer2 ChIP", fontweight="bold")
ftext(752, 551, "$ars$\u0394", fontweight="bold")

ftext(172, 633, "Residuals", rotation=90)
ftext(533, 633, "Residuals", rotation=90)
ftext(173, 707, "Chr size")
ftext(549, 707, "Chr size")

ftext(104, 572, "Observed $\\mathbf{later}$")
ftext(104, 585, "than predicted")
ftext(104, 674, "Observed $\\mathbf{earlier}$")
ftext(104, 686, "than predicted")
ftext(479, 572, "Observed $\\mathbf{higher}$")
ftext(479, 585, "than predicted")
ftext(479, 673, "Observed $\\mathbf{lower}$")
ftext(479, 685, "than predicted")
for xa in (104, 479):
    fig.add_artist(FancyArrowPatch((xa / W, fy(597)), (xa / W, fy(660)),
                                   arrowstyle="<|-|>,head_length=0.6,head_width=0.25",
                                   mutation_scale=12, color="k", lw=1.3, transform=fig.transFigure))
ftext(5, 522, "g", fontsize=10, fontweight="bold", ha="left")
ftext(433, 520, "h", fontsize=10, fontweight="bold", ha="left")

# ---------------- panel i: effects per chromosome ----------------
I_COLS = [(92, 96, 189, 200), (210, 219, 313.3, 325), (340, 343.3, 438.3, 448),
          (464, 468.3, 561.7, 568), (589.3, 592.7, 686.7, 697), (713.3, 716.7, 810.7, 822)]
TOP_MAP = (802.3, 10, 868.3, -10)
BOT_MAP = (910, 0.02, 1009.3, -0.01)


def effect_ax(col, row, show_xlabels):
    sx, p0, p15, right = I_COLS[col]
    if row == 0:
        ax = new_ax(sx, 772, right, 890, xmap=(p0, 0, p15, 1.5), ymap=TOP_MAP)
        set_ticks(ax, "y", [-15, -10, -5, 0, 5, 10, 15],
                  ["", MINUS + "10", "", "0", "", "10", ""] if col == 0 else [""] * 7)
    else:
        ax = new_ax(sx, 906, right, 1013, xmap=(p0, 0, p15, 1.5), ymap=BOT_MAP)
        set_ticks(ax, "y", [-0.01, -0.005, 0, 0.005, 0.01, 0.015, 0.02],
                  [MINUS + "0.01", "", "0", "", "0.01", "", "0.02"] if col == 0 else [""] * 7)
    ax.axhline(0, color="#aaaaaa", lw=0.8, ls=(0, (1.5, 3)), zorder=1)
    set_ticks(ax, "x", [0, 0.5, 1.0, 1.5],
              ["0", "0.5", "1.0", "1.5"] if show_xlabels else [""] * 4)
    return ax


def dots(ax, y, err, color):
    ax.errorbar(chr_size_mb, y, yerr=err, fmt="o", ms=4.2, color=color, ecolor=color,
                elinewidth=1.3, capsize=0, zorder=3, mew=0)


top_series = [[(cen_dis, cen_dis_err, GREEN)], [(tel_dis, tel_dis_err, VIOLET)],
              [(size_dis, size_dis_err, BLUE)], [(assoc_dis, assoc_dis_err, CYAN)],
              [(obs_dis, obs_dis_err, DOT_GRAY), (total_dis, total_dis_err, "k")],
              [(res_dis, res_dis_err, MAROON)]]
bot_series = [[(cen_den, cen_den_err, GREEN)], [(tel_den, tel_den_err, VIOLET)],
              [(size_den, size_den_err, BLUE)], None,
              [(obs_den, obs_den_err, DOT_GRAY), (total_den, total_den_err, "k")],
              [(res_den, res_den_err, MAROON)]]
for col in range(6):
    ax = effect_ax(col, 0, col == 3)
    for y, e, c in top_series[col]:
        dots(ax, y, e, c)
    if bot_series[col] is not None:
        ax = effect_ax(col, 1, True)
        for y, e, c in bot_series[col]:
            dots(ax, y, e, c)

i_titles = [("Centromere", GREEN), ("Telomere", VIOLET), ("Chr size", BLUE),
            ("Association time", CYAN), ("Total", "k"), ("Residuals", MAROON)]
for (t, c), xc in zip(i_titles, [142.3, 266.7, 391, 515.7, 639.3, 764]):
    ftext(xc, 776, t, color=c, fontweight="bold")

for lines, yc in ((("Effect on", "DSB protein", "dissociation time", "(min)"), 835),
                  (("Effect on", "DSB protein", "ChIP density at 6h", "(% of input)"), 960)):
    for x, t in zip((9, 21, 32, 44), lines):
        ftext(x, yc, t, rotation=90,
              fontweight="bold" if t in ("dissociation time", "ChIP density at 6h") else "normal")
ftext(445, 1042, "Chr size (Mb)")
ftext(3, 758, "i", fontsize=10, fontweight="bold", ha="left")

fig.savefig("out.png", dpi=100)
